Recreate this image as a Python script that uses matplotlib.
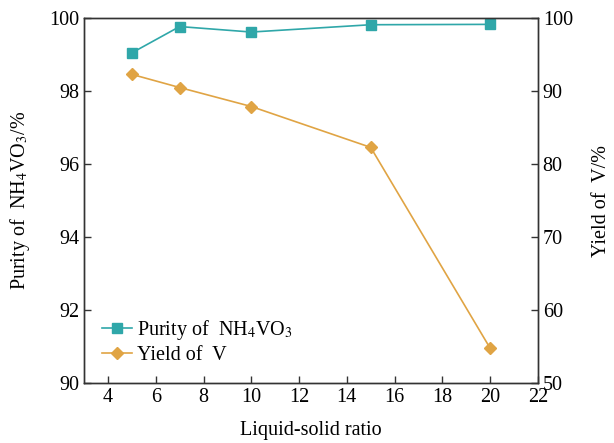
import matplotlib.pyplot as plt

plt.rcParams['font.family'] = ['Liberation Serif', 'DejaVu Serif']
plt.rcParams['mathtext.fontset'] = 'stix'

ratio = [5, 7, 10, 15, 20]
purity = [99.05, 99.77, 99.62, 99.82, 99.83]
yield_v = [92.3, 90.5, 87.9, 82.3, 54.8]

teal = '#2fa7a9'
orange = '#e0a444'

fig = plt.figure(figsize=(6.14, 4.43), dpi=100)
ax = fig.add_axes([0.137, 0.135, 0.739, 0.824])
ax2 = ax.twinx()

l1, = ax.plot(ratio, purity, color=teal, marker='s', markersize=6.5, lw=1.2,
              label=r'Purity of  NH$_4$VO$_3$')
l2, = ax2.plot(ratio, yield_v, color=orange, marker='D', markersize=6.5, lw=1.2,
               label='Yield of  V')

ax.set_xlim(3, 22)
ax.set_ylim(90, 100)
ax2.set_ylim(50, 100)
ax.set_xticks(range(4, 23, 2))
ax.set_yticks(range(90, 101, 2))
ax2.set_yticks(range(50, 101, 10))

for a in (ax, ax2):
    a.tick_params(direction='in', labelsize=14.5, length=5, width=1, color='#333333')
    for s in a.spines.values():
        s.set_linewidth(1.0)
        s.set_color('#333333')

ax.set_xlabel('Liquid-solid ratio', fontsize=14.5, labelpad=10)
ax.set_ylabel(r'Purity of  NH$_4$VO$_3$/%', fontsize=14.5, labelpad=12)
ax2.set_ylabel('Yield of  V/%', fontsize=14.5, labelpad=14)

ax.legend(handles=[l1, l2], loc='lower left', frameon=False, fontsize=14.5,
          handlelength=1.5, handletextpad=0.25, borderaxespad=0.6,
          borderpad=0.3, labelspacing=0.2)

fig.savefig('out.png', dpi=100)
